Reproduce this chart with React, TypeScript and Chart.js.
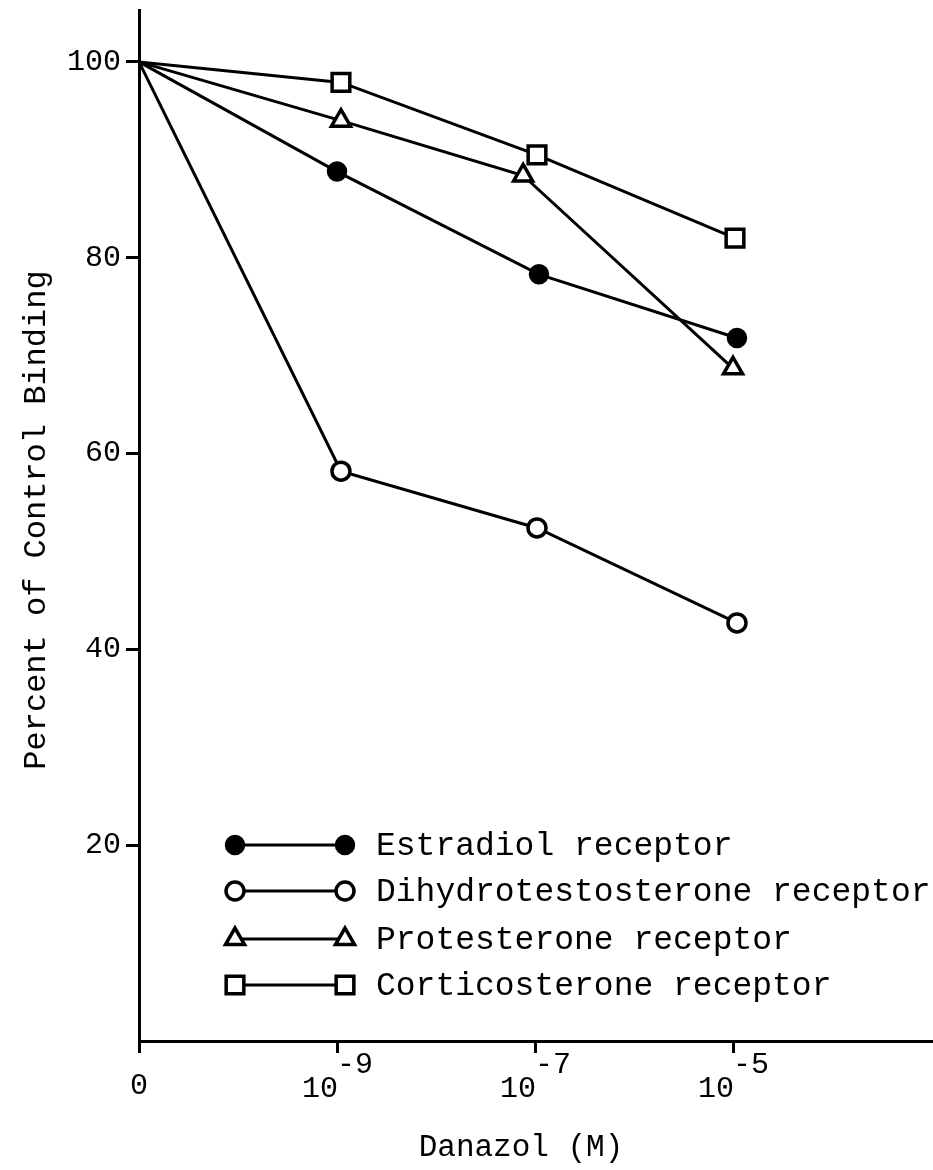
import React, { useEffect, useRef } from "react";
import { Chart, registerables } from "chart.js";

Chart.register(...registerables);

// ---- data (x positions are in "tick units": 0 = no drug, 1 = 10^-9, 2 = 10^-7, 3 = 10^-5)
const seriesNames = [
  "Estradiol receptor",
  "Dihydrotestosterone receptor",
  "Protesterone receptor",
  "Corticosterone receptor",
];
const estradiolX = [0, 1.0, 2.02, 3.02];
const estradiolY = [100, 88.8, 78.3, 71.8];
const dhtX = [0, 1.02, 2.01, 3.02];
const dhtY = [100, 58.2, 52.4, 42.7];
const progX = [0, 1.02, 1.94, 3.0];
const progY = [100, 94.0, 88.4, 68.7];
const cortX = [0, 1.02, 2.01, 3.01];
const cortY = [100, 97.9, 90.5, 82.0];

const xTickValues = [0, 1, 2, 3];
const xTickBase = ["0", "10", "10", "10"];
const xTickExponent = ["", "-9", "-7", "-5"];
const yTickValues = [0, 20, 40, 60, 80, 100];

const xTitle = "Danazol (M)";
const yTitle = "Percent of Control Binding";

const FONT = "'Liberation Mono', 'DejaVu Sans Mono', monospace";

type Style = { shape: "circle" | "triangle" | "rect"; filled: boolean; r: number };
const styles: Style[] = [
  { shape: "circle", filled: true, r: 8.5 },
  { shape: "circle", filled: false, r: 9 },
  { shape: "triangle", filled: false, r: 11 },
  { shape: "rect", filled: false, r: 12.5 },
];

function drawMarker(ctx: CanvasRenderingContext2D, s: Style, x: number, y: number) {
  ctx.save();
  ctx.beginPath();
  if (s.shape === "circle") {
    ctx.arc(x, y, s.r, 0, Math.PI * 2);
  } else if (s.shape === "triangle") {
    let a = 0;
    ctx.moveTo(x + Math.sin(a) * s.r, y - Math.cos(a) * s.r);
    a += (2 * Math.PI) / 3;
    ctx.lineTo(x + Math.sin(a) * s.r, y - Math.cos(a) * s.r);
    a += (2 * Math.PI) / 3;
    ctx.lineTo(x + Math.sin(a) * s.r, y - Math.cos(a) * s.r);
    ctx.closePath();
  } else {
    const h = Math.SQRT1_2 * s.r;
    ctx.rect(x - h, y - h, 2 * h, 2 * h);
  }
  ctx.fillStyle = s.filled ? "#000" : "#fff";
  ctx.fill();
  ctx.lineWidth = 3.5;
  ctx.strokeStyle = "#000";
  ctx.stroke();
  ctx.restore();
}

const decorPlugin = {
  id: "decor",
  afterDraw(chart: any) {
    const ctx: CanvasRenderingContext2D = chart.ctx;
    const xs = chart.scales.x;
    ctx.save();
    ctx.fillStyle = "#000";
    // x tick labels with superscript exponents
    xTickValues.forEach((v, i) => {
      const px = xs.getPixelForValue(v);
      ctx.font = `30px ${FONT}`;
      ctx.textBaseline = "middle";
      if (!xTickExponent[i]) {
        ctx.textAlign = "center";
        ctx.fillText(xTickBase[i], px, 1086);
      } else {
        ctx.textAlign = "right";
        ctx.fillText(xTickBase[i], px + 1, 1089);
        ctx.textAlign = "left";
        ctx.fillText(xTickExponent[i], px, 1065);
      }
    });
    // axis titles
    ctx.font = `31px ${FONT}`;
    ctx.textAlign = "center";
    ctx.textBaseline = "middle";
    ctx.fillText(xTitle, 521, 1148);
    ctx.save();
    ctx.translate(37, 520);
    ctx.rotate(-Math.PI / 2);
    ctx.font = `32px ${FONT}`;
    ctx.fillText(yTitle, 0, 0);
    ctx.restore();
    // legend
    const rows = [845, 891, 939, 985];
    seriesNames.forEach((name, i) => {
      const y = rows[i];
      ctx.beginPath();
      ctx.moveTo(235, y);
      ctx.lineTo(345, y);
      ctx.lineWidth = 3;
      ctx.strokeStyle = "#000";
      ctx.stroke();
      drawMarker(ctx, styles[i], 235, y);
      drawMarker(ctx, styles[i], 345, y);
      ctx.font = `33px ${FONT}`;
      ctx.textAlign = "left";
      ctx.textBaseline = "middle";
      ctx.fillStyle = "#000";
      ctx.fillText(name, 376, y + 1);
    });
    ctx.restore();
  },
};

function toPoints(xs: number[], ys: number[]) {
  return xs.map((x, i) => ({ x, y: ys[i] }));
}

function zeroPad(s: any) {
  s.paddingTop = 0;
  s.paddingBottom = 0;
  s.paddingLeft = 0;
  s.paddingRight = 0;
}

export default function App() {
  const ref = useRef<HTMLCanvasElement | null>(null);
  useEffect(() => {
    if (!ref.current) return;
    const xsArr = [estradiolX, dhtX, progX, cortX];
    const ysArr = [estradiolY, dhtY, progY, cortY];
    const chart = new Chart(ref.current, {
      type: "scatter",
      data: {
        datasets: seriesNames.map((name, i) => ({
          label: name,
          data: toPoints(xsArr[i], ysArr[i]),
          showLine: true,
          borderColor: "#000",
          borderWidth: 3,
          backgroundColor: styles[i].filled ? "#000" : "#fff",
          pointStyle: styles[i].shape,
          pointRadius: (c: any) => (c.dataIndex === 0 ? 0 : styles[i].r),
          pointBorderWidth: 3.5,
          pointBorderColor: "#000",
          pointBackgroundColor: styles[i].filled ? "#000" : "#fff",
          clip: false as any,
        })),
      },
      plugins: [decorPlugin],
      options: {
        animation: false,
        responsive: true,
        maintainAspectRatio: false,
        layout: { autoPadding: false, padding: { top: 10, right: 0, bottom: 0, left: 0 } } as any,
        plugins: { legend: { display: false }, tooltip: { enabled: false } },
        scales: {
          x: {
            type: "linear",
            min: 0,
            max: 4.01,
            afterBuildTicks: (s: any) => {
              s.ticks = xTickValues.map((v) => ({ value: v }));
            },
            afterFit: (s: any) => {
              s.height = 129;
              zeroPad(s);
            },
            ticks: { display: false },
            grid: {
              display: true,
              drawOnChartArea: false,
              drawTicks: true,
              tickLength: 12,
              color: "#000",
              lineWidth: 3,
            },
            border: { display: true, color: "#000", width: 3 },
          },
          y: {
            type: "linear",
            min: 0,
            max: 105.3,
            afterBuildTicks: (s: any) => {
              s.ticks = yTickValues.map((v) => ({ value: v }));
            },
            afterFit: (s: any) => {
              s.width = 139;
              zeroPad(s);
            },
            ticks: {
              color: "#000",
              padding: 5,
              font: { family: FONT, size: 30 },
              callback: (v: any) => (v === 0 ? "" : String(v)),
            },
            grid: {
              display: true,
              drawOnChartArea: false,
              drawTicks: true,
              tickLength: 13,
              color: (c: any) => (c.tick && c.tick.value === 0 ? "rgba(0,0,0,0)" : "#000"),
              lineWidth: 3,
            },
            border: { display: true, color: "#000", width: 3 },
          },
        },
      },
    });
    return () => chart.destroy();
  }, []);
  return (
    <div style={{ position: "absolute", left: 0, top: 0, width: 933, height: 1170, background: "#fff" }}>
      <canvas ref={ref} />
    </div>
  );
}
